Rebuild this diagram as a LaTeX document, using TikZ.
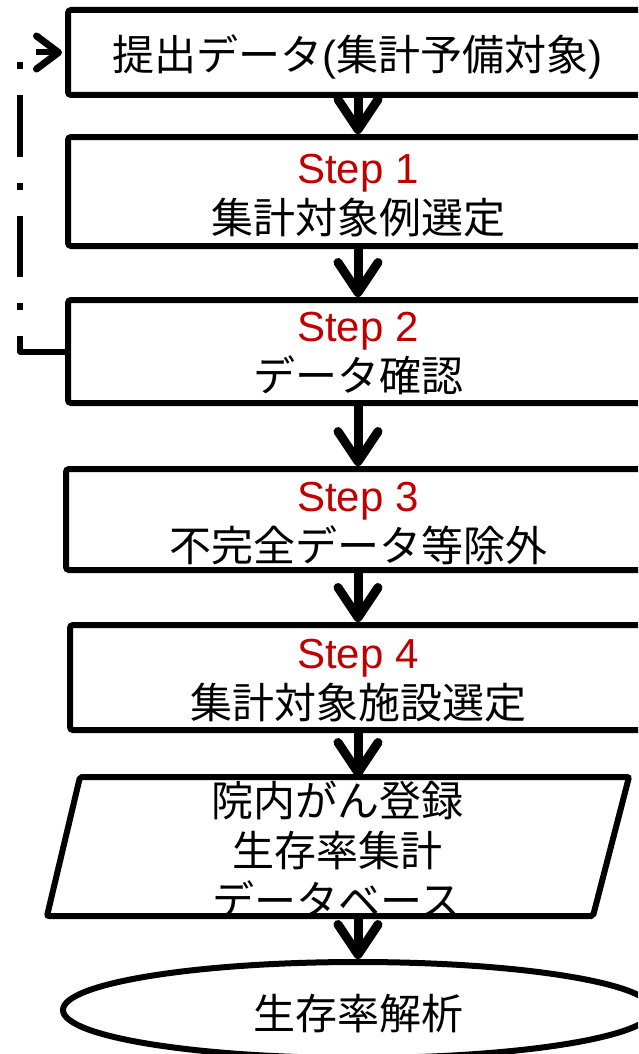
\documentclass[tikz,border=0pt]{standalone}
\usepackage{fontspec}
\setmainfont{Liberation Sans}
\newfontfamily\jp{Noto Sans CJK JP}
\usetikzlibrary{arrows.meta,shapes.geometric}
\definecolor{stepred}{RGB}{192,0,0}
\newcommand{\steplbl}[1]{{\color{stepred}\rmfamily #1}}
\begin{document}
\begin{tikzpicture}[x=1pt,y=-1pt,
  txt/.style={align=center, inner sep=0pt, font=\jp\fontsize{42}{50}\selectfont},
  box/.style={draw, line width=6pt, rounded corners=3pt, inner sep=0pt},
  flow/.style={line width=9pt, -{Straight Barb[length=30pt,width=40pt,round]}},
  loopback/.style={line width=6pt, line join=round, dash pattern=on 61pt off 26pt on 7pt off 26pt,
    -{Straight Barb[length=22pt,width=33pt,round,line width=7pt]}},
  shapeline/.style={draw, line width=6pt}]
\useasboundingbox (0,0) rectangle (638,1054);
\clip (0,0) rectangle (638,1054);
\node[box, minimum width=580pt, minimum height=85pt] (b1) at (358,52.5) {};
\node[box, minimum width=580pt, minimum height=109pt] (b2) at (358,191.5) {};
\node[box, minimum width=580pt, minimum height=103pt] (b3) at (358,351.5) {};
\node[box, minimum width=584pt, minimum height=101pt] (b4) at (358,519.5) {};
\node[box, minimum width=576pt, minimum height=105pt] (b5) at (358,677.5) {};
\node[txt] (t1) at (357,57) {提出データ{\rmfamily (}集計予備対象{\rmfamily )}};
\node[txt] (t2) at (358,196) {\steplbl{Step 1}\\集計対象例選定};
\node[txt] (t3) at (358,354) {\steplbl{Step 2}\\データ確認};
\node[txt] (t4) at (358,523.5) {\steplbl{Step 3}\\不完全データ等除外};
\node[txt] (t5) at (358,681) {\steplbl{Step 4}\\集計対象施設選定};
\draw[shapeline, rounded corners=2pt] (80,777) -- (629,777) -- (593,916) -- (47,916) -- cycle;
\coordinate (dbtop) at (358,777);
\coordinate (dbbot) at (358,916);
\node[txt] (db) at (337,850) {院内がん登録\\生存率集計\\データベース};
\node[ellipse, draw, line width=6pt, minimum width=590pt, minimum height=96pt] (ell) at (358,1010) {};
\node[txt] (et) at (358,1014) {生存率解析};
\draw[flow] (b1.south) -- (b2.north);
\draw[flow] (b2.south) -- (b3.north);
\draw[flow] (b3.south) -- (b4.north);
\draw[flow] (b4.south) -- (b5.north);
\draw[flow] (b5.south) -- (dbtop);
\draw[flow] (dbbot) -- (ell.north);
\coordinate (lc1) at (20,351.5);
\coordinate (lc2) at (20,52.5);
\draw[loopback] (b3.west) -- (lc1) -- (lc2) -- ([xshift=-3pt]b1.west);
\end{tikzpicture}
\end{document}
